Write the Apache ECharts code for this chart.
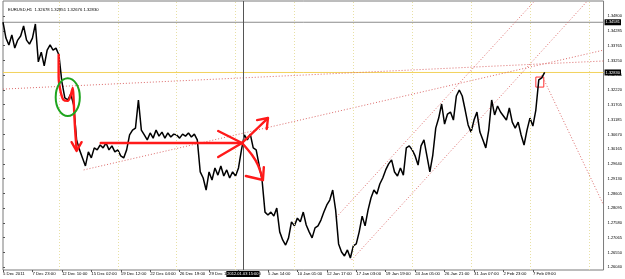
<!DOCTYPE html>
<html>
<head>
<meta charset="utf-8">
<script src="https://cdn.jsdelivr.net/npm/echarts@6/dist/echarts.min.js"></script>
<style>
  html, body { margin: 0; padding: 0; background: #fff; }
  #chart { width: 625px; height: 279px; }
</style>
</head>
<body>
<div id="chart"></div>
<script>
// header of the MT4 window
const header = 'EURUSD,H1  1.32678 1.32851 1.32676 1.32830';

// time labels, one every 10 slots
const xLabels = ['5 Dec 2011', '7 Dec 23:00', '12 Dec 10:00', '15 Dec 02:00', '19 Dec 12:00',
  '22 Dec 04:00', '26 Dec 19:00', '29 Dec 11:00', '3 Jan 03:00', '5 Jan 14:00', '10 Jan 01:00',
  '12 Jan 17:00', '17 Jan 03:00', '19 Jan 19:00', '24 Jan 05:00', '26 Jan 21:00', '31 Jan 07:00',
  '2 Feb 23:00', '7 Feb 09:00'];
const gridSlots = [19, 39, 59, 79, 99, 119, 139, 159, 179, 199];
const slotCount = 204;

// price ticks on the right
const yTicks = [1.34800, 1.34285, 1.33765, 1.33250, 1.32735, 1.32220, 1.31705, 1.31185, 1.30670,
  1.30165, 1.29640, 1.29130, 1.28605, 1.28095, 1.27580, 1.27065, 1.26550, 1.26040];

// EURUSD closes (sampled)
const closes = [
  1.3459, 1.3403, 1.3379, 1.3414, 1.3368, 1.3396, 1.3410, 1.3445, 1.3396, 1.3382,
  1.3403, 1.3452, 1.3320, 1.3354, 1.3306, 1.3361, 1.3379, 1.3361, 1.3368, 1.3344,
  1.3250, 1.3194, 1.3187, 1.3208, 1.3170, 1.3048, 1.3013, 1.2985, 1.2957, 1.3006,
  1.2985, 1.3020, 1.3013, 1.3030, 1.3020, 1.3037, 1.3013, 1.3027, 1.3006, 1.3013,
  1.2992, 1.2985, 1.3013, 1.3065, 1.3082, 1.3089, 1.3187, 1.3082, 1.3065, 1.3048,
  1.3072, 1.3054, 1.3082, 1.3061, 1.3075, 1.3054, 1.3072, 1.3058, 1.3068, 1.3065,
  1.3054, 1.3068, 1.3061, 1.3072, 1.3058, 1.3068, 1.3048, 1.2936, 1.2915, 1.2873,
  1.2936, 1.2908, 1.2950, 1.2925, 1.2957, 1.2922, 1.2943, 1.2915, 1.2936, 1.2922,
  1.2950, 1.3013, 1.3065, 1.3048, 1.3068, 1.3020, 1.3013, 1.2960, 1.2908, 1.2796,
  1.2786, 1.2796, 1.2782, 1.2810, 1.2727, 1.2699, 1.2681, 1.2706, 1.2762, 1.2748,
  1.2775, 1.2762, 1.2796, 1.2751, 1.2727, 1.2706, 1.2741, 1.2748, 1.2768, 1.2796,
  1.2821, 1.2838, 1.2873, 1.2803, 1.2685, 1.2657, 1.2643, 1.2664, 1.2636, 1.2678,
  1.2685, 1.2727, 1.2782, 1.2748, 1.2803, 1.2845, 1.2873, 1.2859, 1.2894, 1.2915,
  1.2943, 1.2964, 1.2978, 1.2936, 1.2922, 1.2950, 1.2925, 1.3020, 1.3027, 1.3013,
  1.2992, 1.2960, 1.3027, 1.3048, 1.2992, 1.2936, 1.2995, 1.3089, 1.3124, 1.3173,
  1.3103, 1.3138, 1.3145, 1.3117, 1.3201, 1.3222, 1.3201, 1.3152, 1.3100, 1.3075,
  1.3117, 1.3145, 1.3075, 1.3048, 1.3020, 1.3082, 1.3187, 1.3135, 1.3166, 1.3145,
  1.3131, 1.3117, 1.3159, 1.3110, 1.3089, 1.3110, 1.3065, 1.3030, 1.3082, 1.3124,
  1.3096, 1.3152, 1.3257, 1.3264, 1.3283
];

// horizontal objects + crosshair
const bidPrice = 1.32830;
const hLinePrice = 1.34581;
const crossSlot = 81.5;
const crossLabel = '2012.01.03 15:00';

// dotted trend lines [slot, price]
const trendTop = [[0, 1.3225], [204, 1.3323]];
const trendLow = [[27.4, 1.2943], [204, 1.3361]];
const channelUp = [[113.3, 1.2779], [180.3, 1.3529]];
const channelDown = [[118.4, 1.2629], [198.2, 1.3529]];
const trendFall = [[183.0, 1.3274], [204, 1.2821]];

// hand drawn red arrows [slot, price]
const arrowDrop = [[18.9, 1.3344], [18.9, 1.3267], [19.6, 1.3215], [20.6, 1.3187], [22.0, 1.3184],
  [23.0, 1.3204], [23.7, 1.3229], [24.0, 1.3187], [24.4, 1.3100], [25.0, 1.3013]];
const arrowDropHead = [[23.3, 1.3040], [25.0, 1.3009], [26.7, 1.3040]];
const arrowFlat = [[33.2, 1.3037], [81.2, 1.3037]];
const arrowFlatHead = [[73.1, 1.3079], [81.2, 1.3037], [73.1, 1.2988]];
const arrowUp = [[81.2, 1.3037], [90.0, 1.3124]];
const arrowUpHead = [[86.3, 1.3117], [90.0, 1.3124], [89.6, 1.3086]];
const arrowDown = [[81.2, 1.3037], [84.6, 1.2995], [86.6, 1.2960], [88.3, 1.2908]];
const arrowDownHead = [[82.5, 1.2922], [88.3, 1.2908], [88.6, 1.2953]];

// green ring corners and red box corners [slot, price]
const ringBox = [[17.9, 1.3263], [26.1, 1.3131]];
const lastBox = [[181.0, 1.3267], [183.7, 1.3232]];

const font = 'Liberation Sans';
const myChart = echarts.init(document.getElementById('chart'));

function dotted(data) {
  return {
    type: 'line', data: data, symbol: 'none', silent: true, z: 3,
    lineStyle: { color: '#dc6a6a', width: 1, type: [1, 2] }
  };
}
function redLine(data, smooth) {
  return {
    type: 'line', data: data, symbol: 'none', silent: true, z: 5, smooth: smooth || false,
    lineStyle: { color: '#ff1a1a', width: 2.4, cap: 'round', join: 'round' }
  };
}
// full width horizontal level with a black price box on the axis
function level(price, color) {
  return {
    type: 'line', data: [[0, price], [slotCount, price]], symbol: 'none', silent: true, z: 2,
    lineStyle: { color: color, width: 1 },
    endLabel: {
      show: true, formatter: price.toFixed(5), distance: 1,
      backgroundColor: '#000', color: '#fff', fontSize: 4, fontFamily: font, padding: [1, 1]
    }
  };
}

const option = {
  animation: false,
  backgroundColor: '#fff',
  textStyle: { fontFamily: font },
  title: {
    text: header, left: 3, top: 3,
    textStyle: { fontSize: 4.2, fontWeight: 'normal', color: '#000', fontFamily: font }
  },
  grid: {
    left: 2, right: 20, top: 1, bottom: 9,
    show: true, borderColor: '#7a7a7a', borderWidth: 1
  },
  xAxis: {
    type: 'value', min: 0, max: slotCount,
    axisLine: { show: false },
    axisTick: { show: true, length: 2, lineStyle: { color: '#555' }, customValues: xLabels.map((_, i) => i * 10) },
    axisLabel: {
      customValues: xLabels.map((_, i) => i * 10),
      formatter: v => xLabels[Math.round(v / 10)] || '',
      align: 'left', margin: 2, fontSize: 4.3, color: '#000', fontFamily: font,
      showMinLabel: true, showMaxLabel: true, hideOverlap: false
    },
    splitLine: { show: false }
  },
  yAxis: {
    type: 'value', position: 'right', min: 1.2594, max: 1.35323,
    axisLine: { show: false },
    axisTick: { show: true, length: 2, lineStyle: { color: '#555' }, customValues: yTicks },
    axisLabel: {
      customValues: yTicks, formatter: v => v.toFixed(5),
      margin: 4, fontSize: 4, color: '#000', fontFamily: font
    },
    splitLine: { show: false }
  },
  series: [
    {
      type: 'line', data: closes.map((v, i) => [i, v]), symbol: 'none', z: 4,
      lineStyle: { color: '#000', width: 1.5 },
      markLine: {
        silent: true, symbol: 'none', animation: false,
        data: gridSlots.map(s => ({
          xAxis: s, label: { show: false },
          lineStyle: { color: '#e8e0a4', type: [1, 2], width: 1 }
        })).concat([
          { xAxis: crossSlot, lineStyle: { color: '#555', type: 'solid', width: 1 },
            label: { show: true, position: 'start', formatter: crossLabel, distance: 1,
              backgroundColor: '#000', color: '#fff', fontSize: 4, fontFamily: font, padding: [1, 1] } }
        ])
      },
      markArea: {
        silent: true,
        itemStyle: { color: 'rgba(0,0,0,0)', borderColor: '#ff3030', borderWidth: 1 },
        data: [[{ coord: lastBox[0] }, { coord: lastBox[1] }]]
      }
    },
    level(hLinePrice, '#8c8c8c'),
    level(bidPrice, '#f2d25c'),
    dotted(trendTop),
    dotted(trendLow),
    dotted(channelUp),
    dotted(channelDown),
    dotted(trendFall),
    redLine(arrowDrop, 0.3),
    redLine(arrowDropHead),
    redLine(arrowFlat),
    redLine(arrowFlatHead),
    redLine(arrowUp),
    redLine(arrowUpHead),
    redLine(arrowDown, 0.3),
    redLine(arrowDownHead)
  ]
};

myChart.setOption(option);

// green ring around the double dip
const p1 = myChart.convertToPixel({ xAxisIndex: 0, yAxisIndex: 0 }, ringBox[0]);
const p2 = myChart.convertToPixel({ xAxisIndex: 0, yAxisIndex: 0 }, ringBox[1]);
myChart.setOption({
  graphic: [{
    type: 'ellipse', silent: true, z: 10,
    shape: { cx: (p1[0] + p2[0]) / 2, cy: (p1[1] + p2[1]) / 2, rx: Math.abs(p2[0] - p1[0]) / 2, ry: Math.abs(p2[1] - p1[1]) / 2 },
    style: { fill: 'none', stroke: '#1fa51f', lineWidth: 2 }
  }]
});

window.addEventListener('resize', function () {
  myChart.resize();
});
</script>
</body>
</html>
